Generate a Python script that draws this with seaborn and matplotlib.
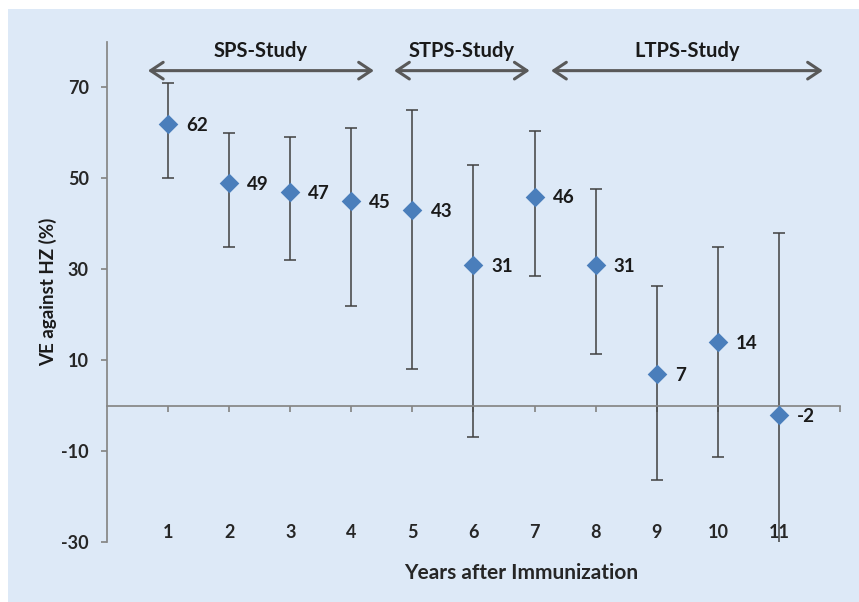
import numpy as np
import pandas as pd
import seaborn as sns
import matplotlib
matplotlib.use("Agg")
import matplotlib.pyplot as plt
from matplotlib.patches import Rectangle

# Vaccine efficacy against HZ per year after immunization (with 95% CI)
years = [1, 2, 3, 4, 5, 6, 7, 8, 9, 10, 11]
ve = [62, 49, 47, 45, 43, 31, 46, 31, 7, 14, -2]
ci_low = [50, 35, 32, 22, 8, -7, 28.5, 11.3, -16.4, -11.3, -35]
ci_high = [71, 60, 59, 61, 65, 53, 60.4, 47.6, 26.3, 35, 38]

# Study periods shown with arrows above the points
studies = ["SPS-Study", "STPS-Study", "LTPS-Study"]
study_start = [0.67, 4.7, 7.27]
study_end = [4.37, 6.92, 11.72]

y_ticks = [70, 50, 30, 10, -10, -30]

panel_blue = "#dde9f7"
point_blue = "#4a7ebb"
axis_grey = "#868686"

sns.set_theme(style="white")
plt.rcParams["font.family"] = ["Lato", "DejaVu Sans"]

df = pd.DataFrame({"year": years, "ve": ve, "low": ci_low, "high": ci_high})

fig = plt.figure(figsize=(8.59, 6.02), dpi=100)
fig.patches.append(Rectangle((8 / 859, 0), 1, 1 - 9 / 602, transform=fig.transFigure,
                             facecolor=panel_blue, edgecolor="none", zorder=-5))
ax = fig.add_axes([107 / 859, 60 / 602, 733 / 859, 500 / 602])
ax.set_facecolor("none")

# Error bars
yerr = np.array([df["ve"] - df["low"], df["high"] - df["ve"]])
ax.errorbar(df["year"], df["ve"], yerr=yerr, fmt="none", ecolor="#404040",
            elinewidth=1.1, capsize=4, capthick=1.1, zorder=2)

# Points
sns.scatterplot(data=df, x="year", y="ve", marker="D", s=100, color=point_blue,
                edgecolor=point_blue, linewidth=0, ax=ax, zorder=3)

# Value labels
for x, v in zip(df["year"], df["ve"]):
    ax.annotate(str(v), (x, v), xytext=(13, -1), textcoords="offset points",
                ha="left", va="center", fontsize=13.5, fontweight="bold", color="#1a1a1a")

# Study arrows
for name, s, e in zip(studies, study_start, study_end):
    ax.annotate("", xy=(e, 73.7), xytext=(s, 73.7),
                arrowprops=dict(arrowstyle="<->,head_length=0.45,head_width=0.3",
                                color="#595959", lw=2.2, mutation_scale=20,
                                shrinkA=0, shrinkB=0),
                annotation_clip=False)
    ax.text((s + e) / 2, 78.0, name, ha="center", va="center", fontsize=14.5,
            fontweight="bold", color="#1a1a1a")

ax.set_xlim(0, 12)
ax.set_ylim(-30, 80)

# Axes styling
for side in ["top", "right"]:
    ax.spines[side].set_visible(False)
ax.spines["left"].set_color(axis_grey)
ax.spines["bottom"].set_color(axis_grey)
ax.spines["bottom"].set_position(("data", 0))

ax.set_yticks(y_ticks)
ax.set_yticklabels([str(t) for t in y_ticks], fontsize=13, fontweight="bold")
ax.set_xticks(range(1, 13))
ax.set_xticklabels([str(y) for y in years] + [""], fontsize=13, fontweight="bold")
ax.tick_params(axis="y", direction="out", length=4, color=axis_grey, left=True, pad=9)
ax.tick_params(axis="x", direction="out", length=4, color=axis_grey, bottom=True, pad=81)

ax.set_xlabel("Years after Immunization", fontsize=15, fontweight="bold")
ax.xaxis.set_label_coords((521 - 107) / 733, -0.042)
ax.set_ylabel("VE against HZ (%)", fontsize=13.5, fontweight="bold", color="#1a1a1a")
ax.yaxis.set_label_coords(-0.068, 0.5)

fig.savefig("out.png", dpi=100)
